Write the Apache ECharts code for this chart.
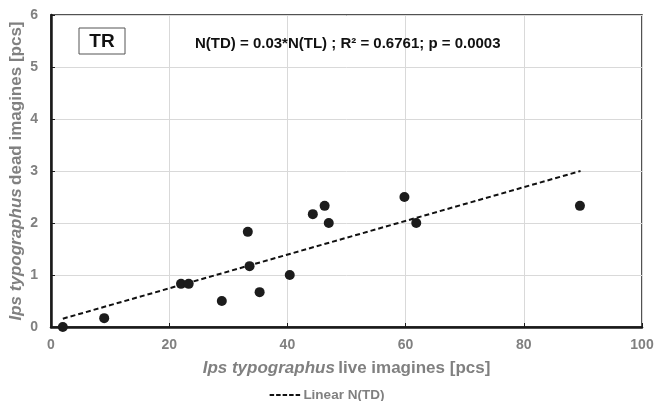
<!DOCTYPE html>
<html>
<head>
<meta charset="utf-8">
<script src="https://cdn.jsdelivr.net/npm/echarts@6/dist/echarts.min.js"></script>
<style>html,body{margin:0;padding:0;background:#fff;}#c{width:654px;height:401px;}</style>
</head>
<body>
<div id="c"></div>
<script>
var liveImagines = [2.0, 9.0, 22.0, 23.3, 28.9, 33.3, 33.6, 35.3, 40.4, 44.3, 46.3, 47.0, 59.8, 61.8, 89.5];
var deadImagines = [0.0, 0.17, 0.83, 0.83, 0.5, 1.83, 1.17, 0.67, 1.0, 2.17, 2.33, 2.0, 2.5, 2.0, 2.33];
// Linear trend line endpoints
var trendX = [2.0, 89.6];
var trendY = [0.16, 3.0];
var xTicks = [0, 20, 40, 60, 80, 100];
var yTicks = [0, 1, 2, 3, 4, 5, 6];

var scatterData = liveImagines.map(function (x, i) { return [x, deadImagines[i]]; });
var trendData = trendX.map(function (x, i) { return [x, trendY[i]]; });

var FF = '"Liberation Sans", Arial, sans-serif';
var grey = '#808080';
var chart = echarts.init(document.getElementById('c'));
chart.setOption({
  animation: false,
  backgroundColor: '#fff',
  textStyle: { fontFamily: FF },
  grid: { left: 51, right: 12, top: 15, bottom: 74, containLabel: false, outerBoundsMode: 'none', show: true, borderColor: '#1a1a1a', borderWidth: 1.5, backgroundColor: 'transparent' },
  xAxis: {
    type: 'value', min: xTicks[0], max: xTicks[xTicks.length - 1], interval: 20,
    axisLine: { show: true, onZero: false, lineStyle: { color: '#1a1a1a', width: 2.5 } },
    axisTick: { show: true, inside: true, length: 4, lineStyle: { color: '#1a1a1a' } },
    axisLabel: { color: grey, fontWeight: 'bold', fontSize: 14, margin: 11, fontFamily: FF },
    splitLine: { show: true, lineStyle: { color: '#d9d9d9', width: 1 } },
    name: '{i|Ips typographus} {n|live imagines [pcs]}',
    nameLocation: 'middle', nameGap: 33,
    nameTextStyle: {
      rich: {
        i: { fontStyle: 'italic', fontWeight: 'bold', fontSize: 17, color: grey, fontFamily: FF },
        n: { fontWeight: 'bold', fontSize: 17, color: grey, fontFamily: FF }
      }
    }
  },
  yAxis: {
    type: 'value', min: yTicks[0], max: yTicks[yTicks.length - 1], interval: 1,
    axisLine: { show: true, onZero: false, lineStyle: { color: '#1a1a1a', width: 2.5 } },
    axisTick: { show: true, inside: true, length: 4, lineStyle: { color: '#1a1a1a' } },
    axisLabel: { color: grey, fontWeight: 'bold', fontSize: 14, margin: 13, fontFamily: FF },
    splitLine: { show: true, lineStyle: { color: '#d9d9d9', width: 1 } },
    name: '{i|Ips typographus} {n|dead imagines [pcs]}',
    nameLocation: 'middle', nameGap: 26, nameRotate: 90, nameMoveOverlap: false,
    nameTextStyle: {
      rich: {
        i: { fontStyle: 'italic', fontWeight: 'bold', fontSize: 17, color: grey, fontFamily: FF },
        n: { fontWeight: 'bold', fontSize: 17, color: grey, fontFamily: FF }
      }
    }
  },
  legend: {
    data: [{ name: 'Linear N(TD)', icon: 'path://M0 0h4.5v2h-4.5z M6.5 0h4.5v2h-4.5z M13 0h4.5v2h-4.5z M19.5 0h4.5v2h-4.5z M26 0h4.5v2h-4.5z' }],
    top: 388, left: 'center', padding: 0,
    itemWidth: 31, itemHeight: 2, itemGap: 4,
    textStyle: { color: grey, fontWeight: 'bold', fontSize: 13.5, fontFamily: FF, padding: [0, 0, 0, -2] }
  },
  series: [
    {
      name: 'Observed', type: 'scatter', data: scatterData,
      symbol: 'circle', symbolSize: 10,
      itemStyle: { color: '#1c1c1c', opacity: 1 }, z: 3
    },
    {
      name: 'Linear N(TD)', type: 'line', data: trendData,
      showSymbol: false, symbol: 'none',
      lineStyle: { color: '#111', width: 2, type: [5, 3] },
      itemStyle: { color: '#111' }, z: 2
    }
  ],
  graphic: [
    { type: 'rect', shape: { x: 79, y: 28, width: 46, height: 26 }, style: { fill: '#fff', stroke: '#555', lineWidth: 1 }, z: 10 },
    { type: 'text', x: 102, y: 42, z: 11, style: { text: 'TR', fill: '#111', fontWeight: 'bold', fontSize: 19, fontFamily: FF, align: 'center', verticalAlign: 'middle' } },
    { type: 'text', x: 195, y: 44, z: 11, style: { text: 'N(TD) = 0.03*N(TL) ; R\u00b2 = 0.6761; p = 0.0003', fill: '#111', fontWeight: 'bold', fontSize: 15, fontFamily: FF, align: 'left', verticalAlign: 'middle' } }
  ]
});
</script>
</body>
</html>
